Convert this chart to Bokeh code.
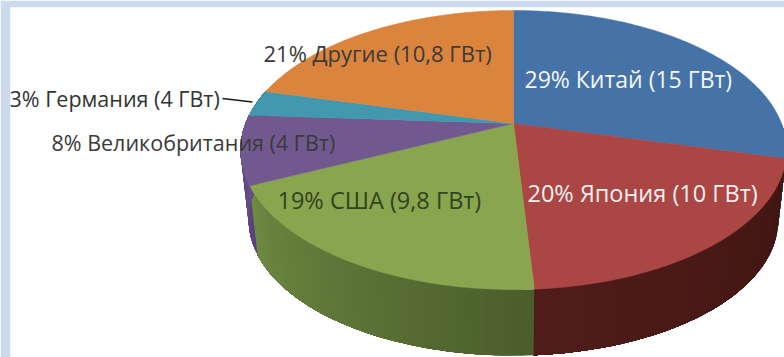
import numpy as np
from bokeh.plotting import figure, ColumnDataSource
from bokeh.core.properties import value
from bokeh.embed import file_html
from bokeh.resources import INLINE

# data
countries = ["Китай", "Япония", "США", "Великобритания", "Германия", "Другие"]
shares = [29, 20, 19, 8, 3, 21]
labels = ["29% Китай (15 ГВт)", "20% Япония (10 ГВт)", "19% США (9,8 ГВт)",
          "8% Великобритания (4 ГВт)", "3% Германия (4 ГВт)", "21% Другие (10,8 ГВт)"]

# styles and layout
top_colors = ["#4572A7", "#AA4643", "#89A54E", "#71588F", "#4198AF", "#DB843D"]
side_from = ["#3d5f88", "#401612", "#6f8a42", "#6a5288", "#35798c", "#b06a30"]
side_to = ["#3d5f88", "#501d1a", "#4a5e2b", "#5b4478", "#35798c", "#b06a30"]
label_x = [524, 527, 277, 51, 9, 263]
label_y = [78, 192, 199, 142, 98, 52]
label_color = ["#f4f6fa", "#fbeeee", "#33421f", "#3a3a3a", "#333333", "#3a3a3a"]
label_size = ["23px", "23.5px", "23.5px", "21.5px", "21.5px", "22px"]
FONT = "Open Sans"

CX, CY = 513.0, 123.0
A, B, K = 268.0, 134.5, 0.19
DEPTH, BOTTOM_SCALE = 71.0, 0.97


def rim(theta, scale=1.0, drop=0.0):
    """Perspective projection of a clockwise-from-top angle on the pie's rim."""
    u, v = np.sin(theta), np.cos(theta)
    d = 1 + K * v
    return CX + scale * A * u / d, CY + drop - scale * B * v / d


p = figure(width=784, height=357, output_backend="svg", toolbar_location=None,
           x_range=(10, 784), y_range=(357, 7), min_border_left=10, min_border_top=7,
           min_border_right=0, min_border_bottom=0, outline_line_color=None,
           background_fill_color="#ffffff", border_fill_color="#cdd9ee")
p.axis.visible = False
p.grid.visible = False

edges = np.radians(np.concatenate([[0], np.cumsum(shares)]) * 3.6)

# side wall, painted first, sliced into strips that overlap so no seams show
sx, sy, sc = [], [], []
for i in range(len(shares)):
    a0, a1 = edges[i], edges[i + 1]
    if a1 < np.pi / 2 or a0 > np.radians(285):
        continue
    a0, a1 = max(a0, np.pi / 2), min(a1, np.radians(285))
    n = 40
    t = np.linspace(a0, a1, n + 1)
    c0 = np.array([int(side_from[i][j:j + 2], 16) for j in (1, 3, 5)])
    c1 = np.array([int(side_to[i][j:j + 2], 16) for j in (1, 3, 5)])
    for k in range(n):
        f = (k + 0.5) / n
        if i == 2 or i == 3:          # the shading darkens towards the seam at the front
            f = 1 - f
        c = (c0 + (c1 - c0) * f).astype(int)
        col = "#%02x%02x%02x" % tuple(int(q) for q in c)
        # each strip runs on to the slice's far end; the next strip paints over the rest
        tt = t[k:]
        x0, y0 = rim(tt)
        x1, y1 = rim(tt[::-1], BOTTOM_SCALE, DEPTH)
        sx.append(list(x0) + list(x1))
        sy.append(list(y0) + list(y1))
        sc.append(col)
p.patches(sx, sy, fill_color=sc, line_color=None)

# top face
tx, ty = [], []
for i in range(len(shares)):
    t = np.linspace(edges[i], edges[i + 1], 120)
    x, y = rim(t)
    tx.append([CX] + list(x))
    ty.append([CY] + list(y))
p.patches(tx, ty, fill_color=top_colors, line_color=top_colors, line_width=0.5)

# leader line of the small slice
mid = (edges[4] + edges[5]) / 2
lx, ly = rim(mid)
p.line([222, lx - 4], [98, ly - 1], line_color="#1a1a1a", line_width=1.5)

src = ColumnDataSource(dict(x=label_x, y=label_y, text=labels, color=label_color, size=label_size))
p.text("x", "y", text="text", source=src, text_color="color", text_align="left",
       text_baseline="middle", text_font=value(FONT), text_font_size="size")

html = file_html(p, INLINE)
html = html.replace("<head>", "<head><style>html,body{margin:0;padding:0;overflow:hidden;background:#fff}</style>", 1)
open("out.html", "w").write(html)
